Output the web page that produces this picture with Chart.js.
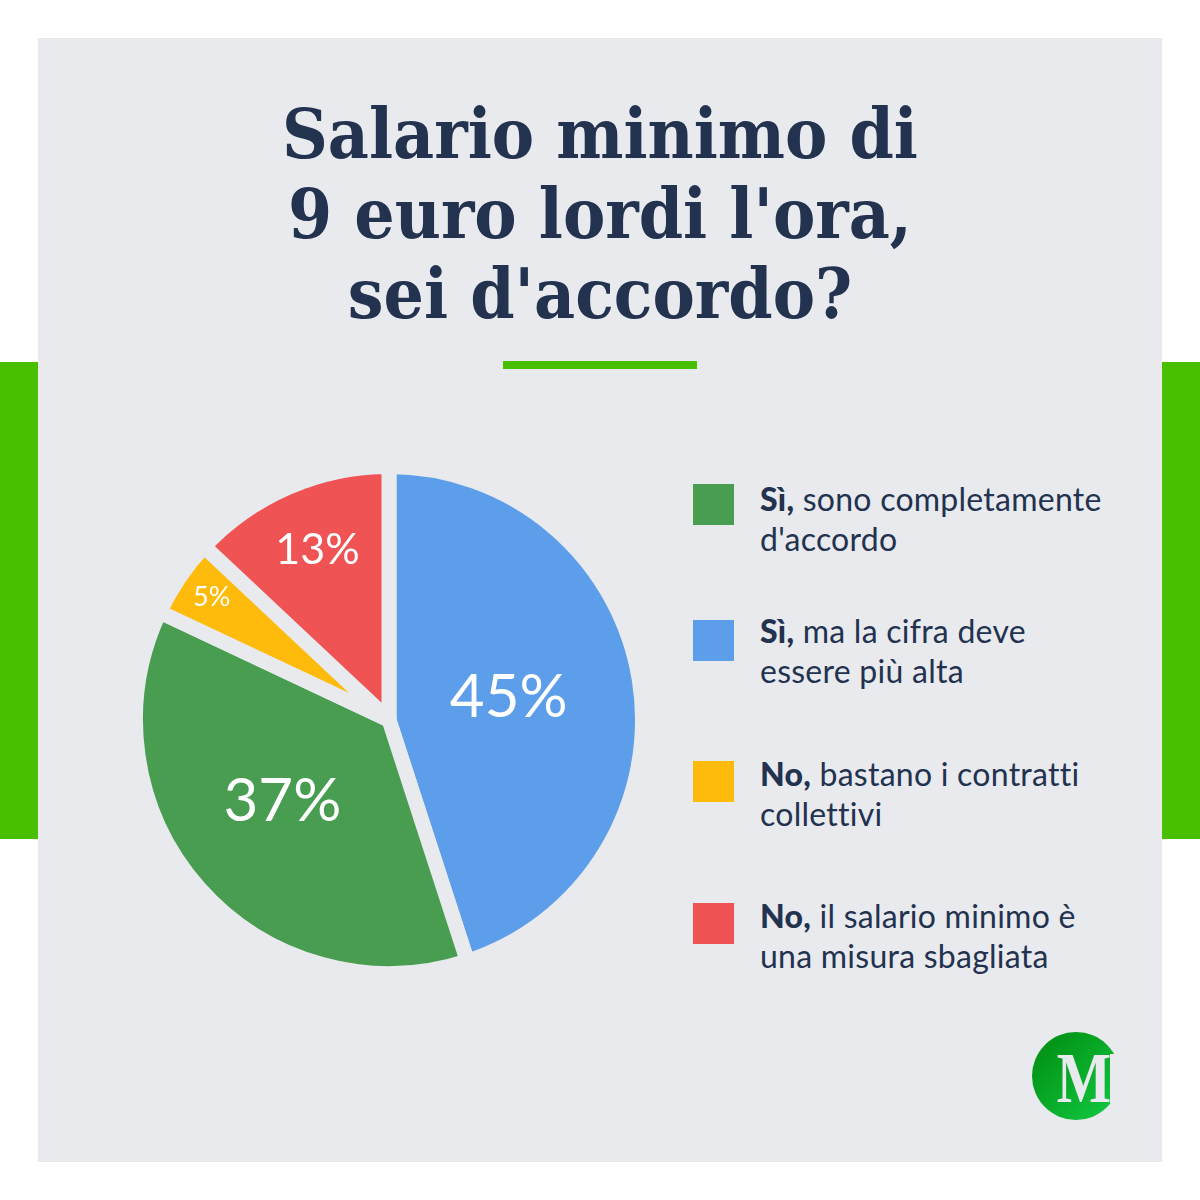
<!DOCTYPE html>
<html>
<head>
<meta charset="utf-8">
<title>Salario minimo</title>
<script src="https://cdn.jsdelivr.net/npm/chart.js@4/dist/chart.umd.min.js"></script>
<style>
html, body { margin: 0; padding: 0; background: #fff; }
#page { position: relative; width: 1200px; height: 1200px; overflow: hidden; background: #fff; }
#panel { position: absolute; left: 38px; top: 38px; width: 1124px; height: 1124px; background: #e8eaee; }
.side { position: absolute; top: 362px; width: 38px; height: 477px; background: #48c000; }
#title { position: absolute; left: 38px; top: 94px; width: 1124px; text-align: center; font: bold 70px/80px "DejaVu Serif", serif; color: #22324f; transform: scaleX(0.907); }
#rule { position: absolute; left: 503px; top: 361px; width: 194px; height: 8px; background: #48c000; }
#pieBox { position: absolute; left: 127.5px; top: 459px; width: 522px; height: 522px; }
.swatch { position: absolute; left: 693px; width: 41px; height: 41px; }
.entry { position: absolute; left: 760px; width: 380px; font: 32px/40px Lato, sans-serif; letter-spacing: 0.25px; color: #22324f; }
.entry div { height: 40px; white-space: pre; }
.entry b { font-weight: 900; }
#logo { position: absolute; left: 1032px; top: 1032px; width: 88px; height: 88px; border-radius: 50%; background: linear-gradient(135deg, #008a0e, #12cc45); }
#logoCut { position: absolute; left: 1110px; top: 1054px; width: 14px; height: 49px; background: #e8eaee; }
#logoM { position: absolute; left: 1034px; top: 1042px; width: 100px; text-align: center; font: bold 72px/72px "Liberation Serif", serif; color: #e8eaee; transform: scaleX(0.8); }
</style>
</head>
<body>
<div id="page">
	<div id="panel"></div>
	<div class="side" style="left:0"></div>
	<div class="side" style="left:1162px"></div>
	<div id="title"></div>
	<div id="rule"></div>
	<div id="pieBox"><canvas id="pieChart" width="522" height="522"></canvas></div>
	<div id="legendBox"></div>
	<div id="logo"></div>
	<div id="logoCut"></div>
	<div id="logoM">M</div>
</div>
<script>
"use strict"

// VARIABLES -----------------------
const titleLines = ["Salario minimo di", "9 euro lordi l'ora,", "sei d'accordo?"]

// pie order, clockwise from the top
const categories = ["Sì, ma la cifra deve essere più alta", "Sì, sono completamente d'accordo", "No, bastano i contratti collettivi", "No, il salario minimo è una misura sbagliata"]
const values = [45, 37, 5, 13]
const colors = ["#5c9ee9", "#499d51", "#ffbb0b", "#ef5353"]
const labelSizes = [60, 60, 27, 43]
const labelRadius = [0.49, 0.55, 0.86, 0.72]
const labelNudgeX = [-3, -2, 3, 1]
const labelNudgeY = [-3, -11, 0, -2]

// legend order
const legendBold = ["Sì,", "Sì,", "No,", "No,"]
const legendFirst = [" sono completamente", " ma la cifra deve", " bastano i contratti", " il salario minimo è"]
const legendSecond = ["d'accordo", "essere più alta", "collettivi", "una misura sbagliata"]
const legendColors = ["#499d51", "#5c9ee9", "#ffbb0b", "#ef5353"]
const legendTops = [484, 620, 761, 903]
const legendTextTops = [479, 611, 754, 896]

// LEGEND -----------------------
document.getElementById("title").innerHTML = titleLines.join("<br>")

const legendBox = document.getElementById("legendBox")
for (let i = 0; i < legendBold.length; i++) {
	const swatch = document.createElement("div")
	swatch.className = "swatch"
	swatch.style.top = legendTops[i] + "px"
	swatch.style.background = legendColors[i]
	legendBox.appendChild(swatch)

	const entry = document.createElement("div")
	entry.className = "entry"
	entry.style.top = legendTextTops[i] + "px"
	const first = document.createElement("div")
	const bold = document.createElement("b")
	bold.textContent = legendBold[i]
	const rest = document.createElement("span")
	rest.textContent = legendFirst[i]
	first.appendChild(bold)
	first.appendChild(rest)
	const second = document.createElement("div")
	second.textContent = legendSecond[i]
	entry.appendChild(first)
	entry.appendChild(second)
	legendBox.appendChild(entry)
}

// CHARTS -----------------------
const percentLabels = {
	id: "percentLabels",
	afterDatasetsDraw(chart) {
		const ctx = chart.ctx
		const arcs = chart.getDatasetMeta(0).data
		ctx.save()
		ctx.fillStyle = "#fff"
		ctx.textAlign = "center"
		ctx.textBaseline = "middle"
		arcs.forEach(function (arc, i) {
			const mid = (arc.startAngle + arc.endAngle) / 2
			const r = arc.outerRadius * labelRadius[i]
			ctx.font = labelSizes[i] + 'px Lato, sans-serif'
			ctx.fillText(values[i] + "%", arc.x + Math.cos(mid) * r + labelNudgeX[i], arc.y + Math.sin(mid) * r + labelNudgeY[i])
		})
		ctx.restore()
	},
}

new Chart(document.getElementById("pieChart"), {
	type: "pie",
	data: {
		labels: categories,
		datasets: [
			{
				data: values,
				backgroundColor: colors,
				borderColor: "#e8eaee",
				borderWidth: 15,
				borderJoinStyle: "bevel",
				hoverOffset: 0,
			},
		],
	},
	options: {
		responsive: false,
		animation: false,
		layout: { padding: 0 },
		plugins: {
			legend: { display: false },
			tooltip: { enabled: false },
		},
	},
	plugins: [percentLabels],
})
</script>
</body>
</html>
